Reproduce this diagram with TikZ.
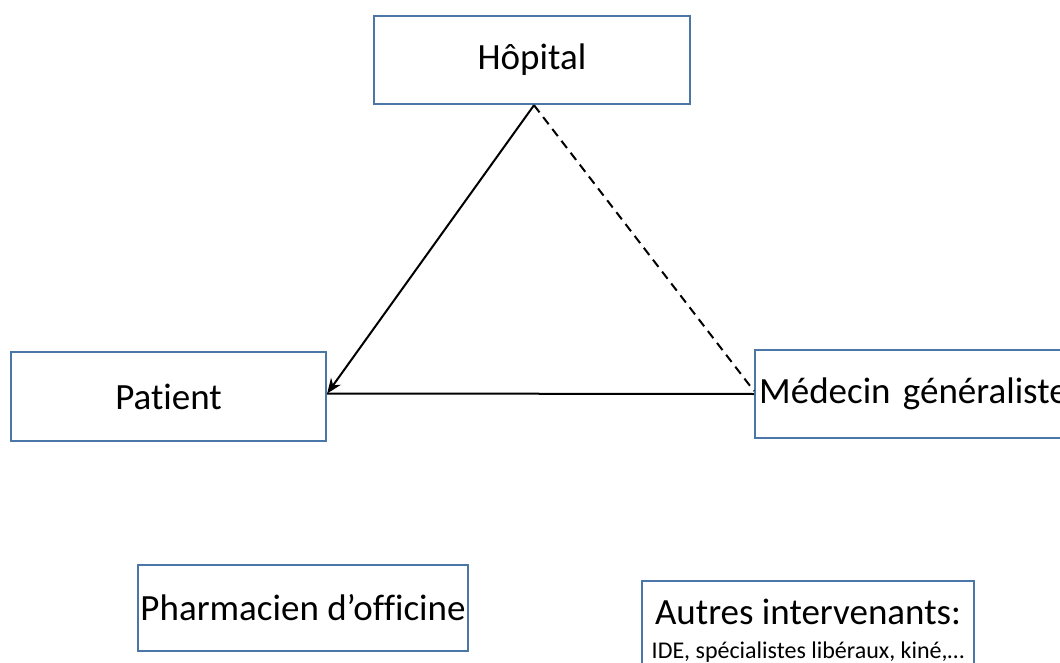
\documentclass[tikz,border=0pt]{standalone}
\usepackage{fontspec}
\setmainfont{Carlito}[RawFeature=-liga]
\usetikzlibrary{arrows.meta}
\definecolor{boxblue}{HTML}{4A76A8}
\begin{document}
\begin{tikzpicture}[x=1pt,y=-1pt,
  box/.style={draw=boxblue,line width=2.4pt,fill=white,rectangle,inner sep=0pt,
    font=\fontsize{37}{42}\selectfont},
  conn/.style={line width=2pt,black},
  tip/.style={-{Stealth[length=15pt,width=12pt]}}]
\useasboundingbox[fill=white] (0,0) rectangle (1060,663);
\node[box,minimum width=316pt,minimum height=88pt] (hop) at (532,60) {Hôpital};
\node[box,minimum width=315pt,minimum height=89pt] (pat) at (168.5,396.5) {Patient};
\node[box,minimum width=340pt,minimum height=88pt,anchor=west,text width=332pt,align=left,inner xsep=4pt] (med) at (754,394) {Médecin généraliste};
\node[box,minimum width=330pt,minimum height=86pt] (pha) at (303,608) {Pharmacien d’officine};
\node[box,minimum width=332pt,minimum height=100pt,anchor=north,align=center,inner ysep=8pt] (aut) at (808,580)
  {\fontsize{37}{38}\selectfont Autres intervenants:\\[-8pt]\fontsize{24}{26}\selectfont IDE, spécialistes libéraux, kiné,…};
\draw[conn,tip] ([xshift=2pt]hop.south) -- ([yshift=3pt]pat.east);
\draw[conn] (med.west) -- ([yshift=3pt]pat.east);
\draw[conn,dashed,dash pattern=on 9pt off 6pt] ([xshift=2pt]hop.south) -- ([yshift=3pt]med.west);
\end{tikzpicture}
\end{document}
